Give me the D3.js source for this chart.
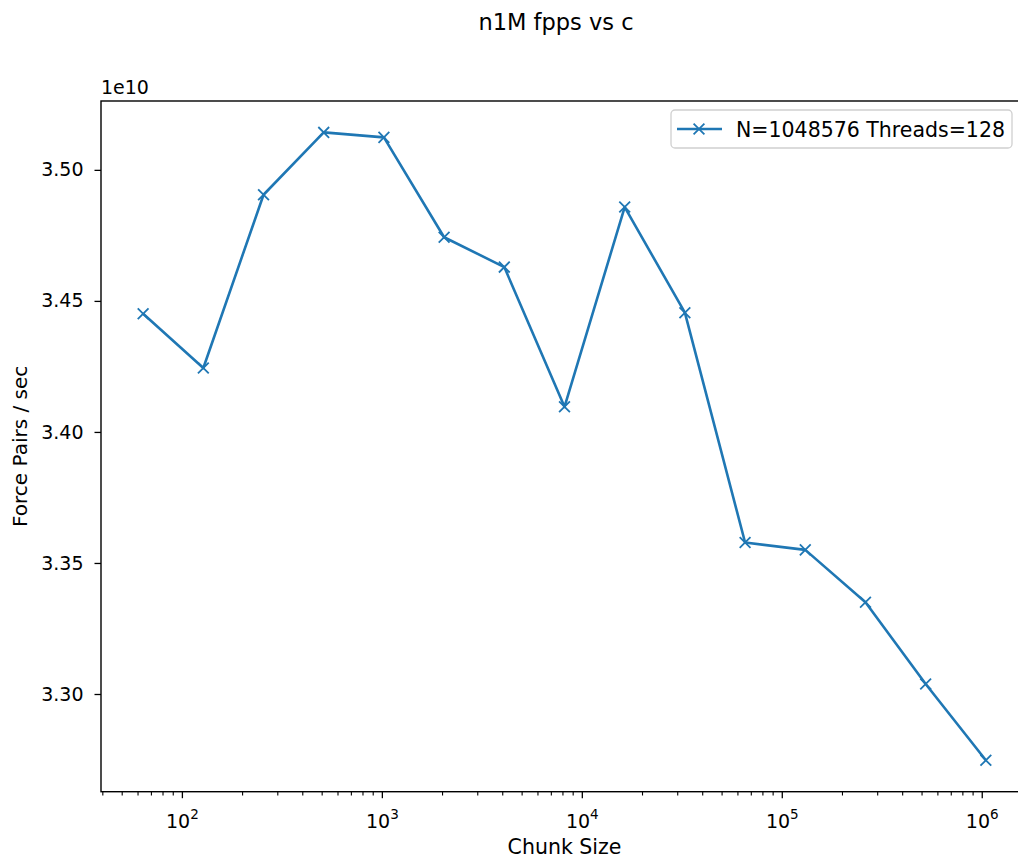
<!DOCTYPE html>
<html>
<head>
<meta charset="utf-8">
<script src="https://cdn.jsdelivr.net/npm/d3@7"></script>
<style>
  html, body { margin: 0; padding: 0; background: #fff; overflow: hidden; }
  svg { display: block; overflow: hidden; }
  text { font-family: "DejaVu Sans", sans-serif; fill: #000; }
</style>
</head>
<body>
<div id="chart"></div>
<script>
  // chunk sizes (powers of two) and force pairs per second
  var chunkSizes = [64, 128, 256, 512, 1024, 2048, 4096, 8192, 16384, 32768,
                    65536, 131072, 262144, 524288, 1048576];
  var fpps = [3.4451e10, 3.4244e10, 3.4905e10, 3.5143e10, 3.5124e10, 3.4743e10,
              3.4629e10, 3.4096e10, 3.4858e10, 3.4455e10, 3.3578e10, 3.3550e10,
              3.3350e10, 3.3038e10, 3.2747e10];
  var yTicks = [3.30e10, 3.35e10, 3.40e10, 3.45e10, 3.50e10];
  var xTickExps = [2, 3, 4, 5, 6];
  var seriesLabel = "N=1048576 Threads=128";

  const WIDTH = 1018;
  const HEIGHT = 860;
  const COLOR = '#1f77b4';
  const margin = { top: 101, left: 101, right: 1028, bottom: 791.7 };

  var svg = d3.select("#chart").append("svg")
    .attr("width", WIDTH)
    .attr("height", HEIGHT);

  // 5% margins like matplotlib (log space for x)
  var lx = d3.extent(chunkSizes, function (d) { return Math.log10(d); });
  var padX = (lx[1] - lx[0]) * 0.05;
  var ly = d3.extent(fpps);
  var padY = (ly[1] - ly[0]) * 0.05;

  var x = d3.scaleLog()
    .domain([Math.pow(10, lx[0] - padX), Math.pow(10, lx[1] + padX)])
    .range([margin.left, margin.right]);

  var y = d3.scaleLinear()
    .domain([ly[0] - padY, ly[1] + padY])
    .range([margin.bottom, margin.top]);

  // title
  svg.append("text")
    .attr("x", 556)
    .attr("y", 30)
    .attr("text-anchor", "middle")
    .style("font-size", "22.5px")
    .text("n1M fpps vs c");

  // minor x ticks
  var minor = [];
  for (var e = 1; e <= 6; e++) {
    for (var m = 2; m <= 9; m++) {
      var v = m * Math.pow(10, e);
      if (v >= x.domain()[0] && v <= x.domain()[1]) minor.push(v);
    }
  }

  var xAxisMinor = d3.axisBottom(x)
    .tickValues(minor)
    .tickSize(3.8)
    .tickFormat("");

  var gxm = svg.append("g")
    .attr("transform", "translate(0," + margin.bottom + ")")
    .call(xAxisMinor);
  gxm.select(".domain").remove();
  gxm.selectAll("line").attr("stroke", "#000").attr("stroke-width", 1.1);

  var xAxis = d3.axisBottom(x)
    .tickValues(xTickExps.map(function (d) { return Math.pow(10, d); }))
    .tickSize(6.5)
    .tickFormat("");

  var gx = svg.append("g")
    .attr("transform", "translate(0," + margin.bottom + ")")
    .call(xAxis);
  gx.select(".domain").remove();
  gx.selectAll("line").attr("stroke", "#000").attr("stroke-width", 1.3);

  var lbl = gx.selectAll(".tick").append("text")
    .attr("y", 36)
    .attr("text-anchor", "middle")
    .style("font-size", "19px");
  lbl.append("tspan").text("10");
  lbl.append("tspan")
    .attr("dy", "-8.5")
    .style("font-size", "13.5px")
    .text(function (d, i) { return xTickExps[i]; });

  var yAxis = d3.axisLeft(y)
    .tickValues(yTicks)
    .tickSize(6.5)
    .tickPadding(11)
    .tickFormat(function (d) { return (d / 1e10).toFixed(2); });

  var gy = svg.append("g")
    .attr("transform", "translate(" + margin.left + ",0)")
    .call(yAxis);
  gy.select(".domain").remove();
  gy.selectAll("line").attr("stroke", "#000").attr("stroke-width", 1.3);
  gy.selectAll("text")
    .style("font-size", "19px")
    .style("font-family", "DejaVu Sans, sans-serif")
    .attr("fill", "#000");

  // offset text
  svg.append("text")
    .attr("x", margin.left)
    .attr("y", 94)
    .style("font-size", "19px")
    .text("1e10");

  // axis labels
  svg.append("text")
    .attr("x", (margin.left + margin.right) / 2)
    .attr("y", 854)
    .attr("text-anchor", "middle")
    .style("font-size", "20.5px")
    .text("Chunk Size");

  svg.append("text")
    .attr("transform", "translate(27," + ((margin.top + margin.bottom) / 2) + ") rotate(-90)")
    .attr("text-anchor", "middle")
    .style("font-size", "20px")
    .text("Force Pairs / sec");

  // line + markers
  var pts = chunkSizes.map(function (d, i) { return { c: d, v: fpps[i] }; });

  svg.append("path")
    .datum(pts)
    .attr("fill", "none")
    .attr("stroke", COLOR)
    .attr("stroke-width", 2.6)
    .attr("stroke-linejoin", "round")
    .attr("d", d3.line()
      .x(function (d) { return x(d.c); })
      .y(function (d) { return y(d.v); }));

  var xMark = "M-5.4,-5.4L5.4,5.4M-5.4,5.4L5.4,-5.4";
  svg.selectAll(".mark")
    .data(pts)
    .enter().append("path")
    .attr("class", "mark")
    .attr("transform", function (d) { return "translate(" + x(d.c) + "," + y(d.v) + ")"; })
    .attr("d", xMark)
    .attr("stroke", COLOR)
    .attr("stroke-width", 1.8)
    .attr("fill", "none");

  // frame
  svg.append("rect")
    .attr("x", margin.left)
    .attr("y", margin.top)
    .attr("width", margin.right - margin.left)
    .attr("height", margin.bottom - margin.top)
    .attr("fill", "none")
    .attr("stroke", "#000")
    .attr("stroke-width", 1.4);

  // legend
  var leg = svg.append("g").attr("transform", "translate(671,110)");
  leg.append("rect")
    .attr("width", 341)
    .attr("height", 38)
    .attr("rx", 4)
    .attr("fill", "#fff")
    .attr("fill-opacity", 0.8)
    .attr("stroke", "#d0d0d0")
    .attr("stroke-width", 1.3);
  leg.append("line")
    .attr("x1", 6).attr("x2", 51)
    .attr("y1", 19).attr("y2", 19)
    .attr("stroke", COLOR)
    .attr("stroke-width", 2.6);
  leg.append("path")
    .attr("transform", "translate(28,19)")
    .attr("d", xMark)
    .attr("stroke", COLOR)
    .attr("stroke-width", 1.8)
    .attr("fill", "none");
  leg.append("text")
    .attr("x", 65)
    .attr("y", 26.5)
    .style("font-size", "20.5px")
    .text(seriesLabel);
</script>
</body>
</html>
